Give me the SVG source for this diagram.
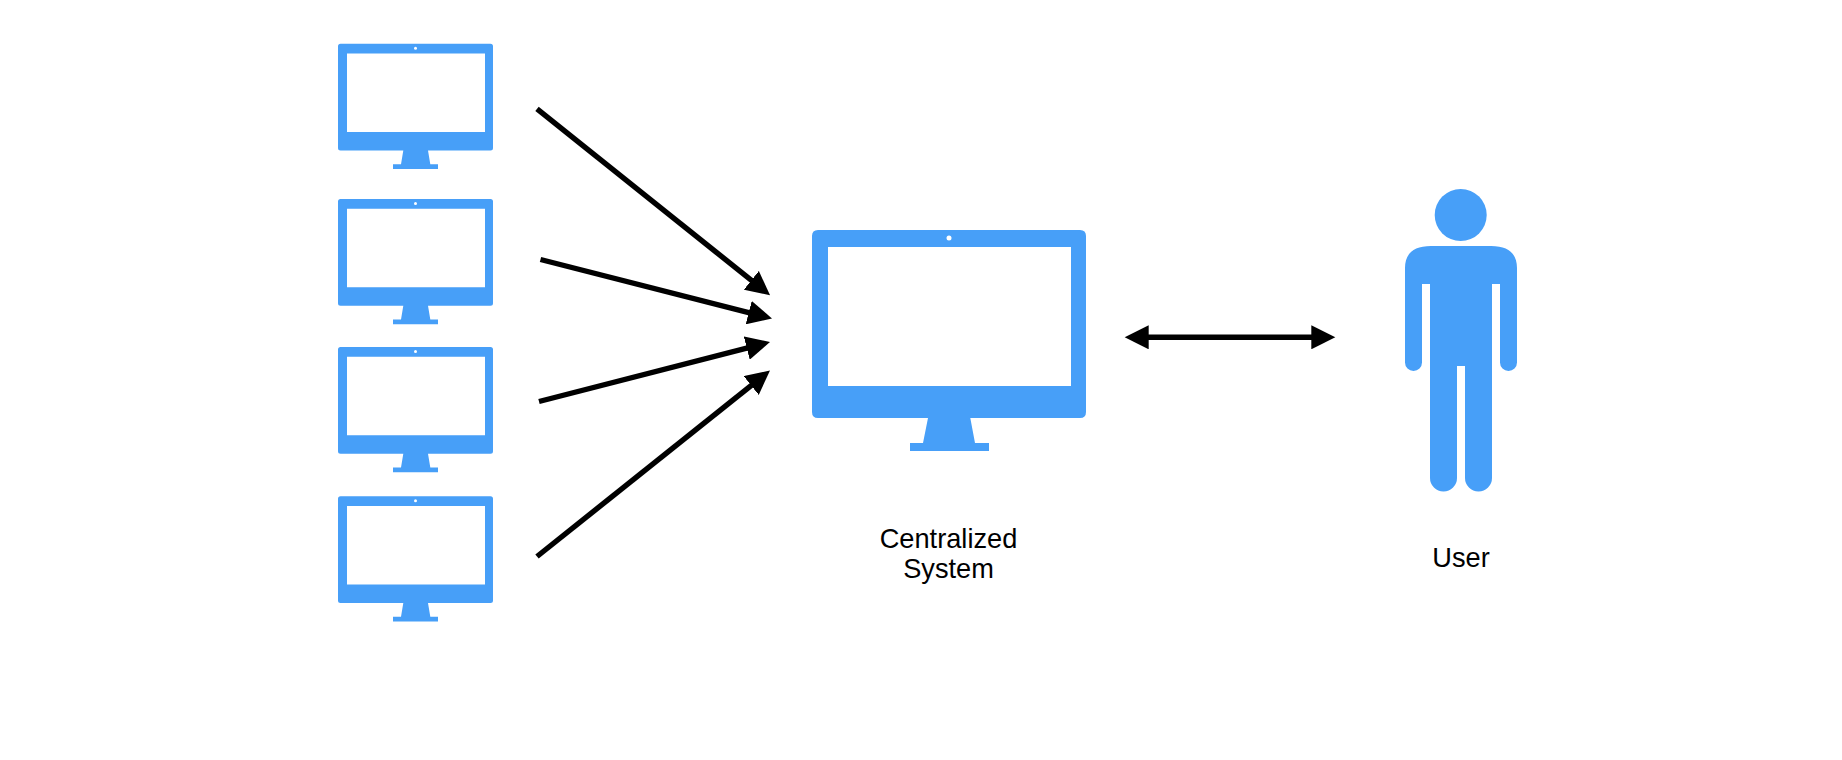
<svg xmlns="http://www.w3.org/2000/svg" xmlns:xlink="http://www.w3.org/1999/xlink" width="1842" height="760" viewBox="0 0 1842 760">
<style>
.icon{fill:#479ff8}
.cam{fill:#fff}
.wire{stroke:#000;stroke-width:5.400;fill:none}
.label{font-family:"Liberation Sans",Arial,sans-serif;font-size:27.200px;fill:#000;text-anchor:middle}
</style>
<defs>
<marker id="head" markerUnits="userSpaceOnUse" markerWidth="25" markerHeight="24" viewBox="0 0 25 24" refX="1" refY="12" orient="auto-start-reverse">
<path d="M0 0L24 12L0 24Z" fill="#000"/>
</marker>
<g id="monitor">
<path class="icon" fill-rule="evenodd" d="M340.500 0H490.500Q493 0 493 2.500V104.300Q493 106.800 490.500 106.800H428L430.300 120.500H438V125.300H393V120.500H401L403.300 106.800H340.500Q338 106.800 338 104.300V2.500Q338 0 340.500 0ZM347 9.700V88.200H485V9.700Z"/>
<circle class="cam" cx="415.500" cy="4.500" r="1.500"/>
</g>
</defs>
<rect width="1842" height="760" fill="#fff"/>
<g id="connectors">
<line class="wire" x1="537" y1="108.800" x2="752.100" y2="280.900" marker-end="url(#head)"/>
<line class="wire" x1="540.500" y1="259.500" x2="749.700" y2="312.800" marker-end="url(#head)"/>
<line class="wire" x1="539" y1="401.500" x2="747.700" y2="347.800" marker-end="url(#head)"/>
<line class="wire" x1="537" y1="556.500" x2="752" y2="384.900" marker-end="url(#head)"/>
<line class="wire" x1="1147.700" y1="337.300" x2="1312.300" y2="337.300" marker-start="url(#head)" marker-end="url(#head)"/>
</g>
<g id="monitor-1"><use href="#monitor" y="43.800"/></g>
<g id="monitor-2"><use href="#monitor" y="199"/></g>
<g id="monitor-3"><use href="#monitor" y="347"/></g>
<g id="monitor-4"><use href="#monitor" y="496.300"/></g>
<g id="centralized-system">
<path class="icon" fill-rule="evenodd" d="M818 230H1080Q1086 230 1086 236V412Q1086 418 1080 418H970.300L975 443H989V451H910V443H923L928 418H818Q812 418 812 412V236Q812 230 818 230ZM828 247V386H1071V247Z"/>
<circle class="cam" cx="949" cy="238" r="2.500"/>
<text class="label" x="948.500" y="548.300">Centralized</text>
<text class="label" x="948.500" y="578.300">System</text>
</g>
<g id="user">
<circle class="icon" cx="1460.700" cy="215" r="26"/>
<path class="icon" d="M1431 246H1491C1509 246 1517 254 1517 268V362.500A8.500 8.500 0 0 1 1500 362.500V284H1492V478A13.500 13.500 0 0 1 1465 478V366H1457V478A13.500 13.500 0 0 1 1430 478V284H1422V362.500A8.500 8.500 0 0 1 1405 362.500V268C1405 254 1413 246 1431 246Z"/>
<text class="label" x="1461" y="566.700">User</text>
</g>
</svg>
